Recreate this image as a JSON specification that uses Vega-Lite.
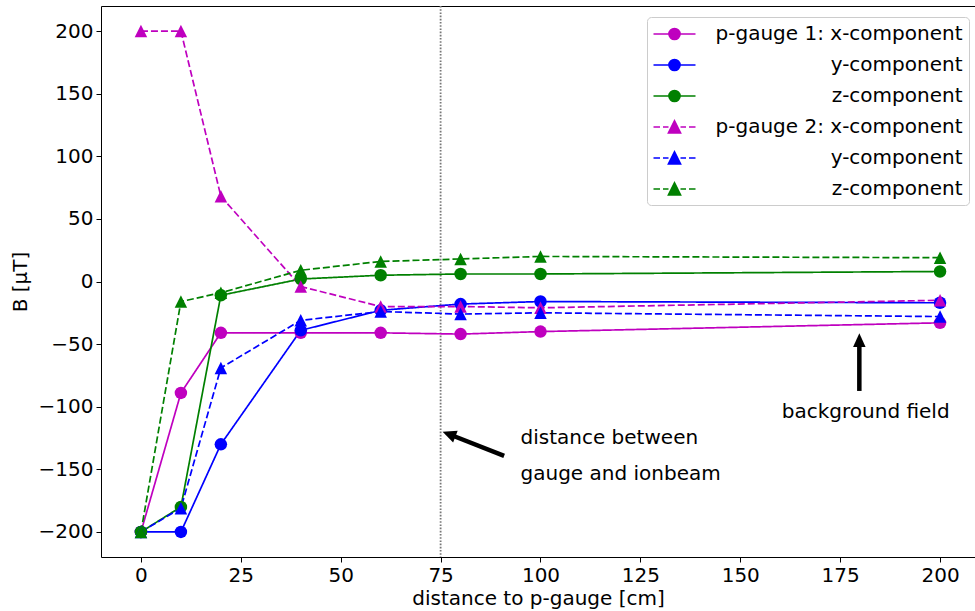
{
  "$schema": "https://vega.github.io/schema/vega-lite/v6.json",
  "width": 874,
  "height": 551,
  "autosize": {"type": "none"},
  "padding": {"left": 101, "top": 6, "right": 0, "bottom": 54},
  "config": {
    "font": "DejaVu Sans",
    "view": {"stroke": "black", "strokeWidth": 1},
    "axis": {
      "grid": false,
      "domain": false,
      "tickColor": "black",
      "tickSize": 5,
      "tickWidth": 1,
      "labelFont": "DejaVu Sans",
      "labelFontSize": 20,
      "labelColor": "black",
      "labelPadding": 3,
      "titleFont": "DejaVu Sans",
      "titleFontSize": 20,
      "titleFontWeight": "normal",
      "titleColor": "black"
    },
    "axisX": {"titlePadding": 3},
    "axisY": {"titlePadding": 8}
  },
  "datasets": {
    "main": [
      {"series": "g1x", "d": 0, "B": -200}, {"series": "g1x", "d": 10, "B": -89}, {"series": "g1x", "d": 20, "B": -41}, {"series": "g1x", "d": 40, "B": -41}, {"series": "g1x", "d": 60, "B": -41}, {"series": "g1x", "d": 80, "B": -42}, {"series": "g1x", "d": 100, "B": -40}, {"series": "g1x", "d": 200, "B": -33},
      {"series": "g1y", "d": 0, "B": -200}, {"series": "g1y", "d": 10, "B": -200}, {"series": "g1y", "d": 20, "B": -130}, {"series": "g1y", "d": 40, "B": -39}, {"series": "g1y", "d": 60, "B": -23}, {"series": "g1y", "d": 80, "B": -18}, {"series": "g1y", "d": 100, "B": -16}, {"series": "g1y", "d": 200, "B": -17},
      {"series": "g1z", "d": 0, "B": -200}, {"series": "g1z", "d": 10, "B": -180}, {"series": "g1z", "d": 20, "B": -11}, {"series": "g1z", "d": 40, "B": 2}, {"series": "g1z", "d": 60, "B": 5}, {"series": "g1z", "d": 80, "B": 6}, {"series": "g1z", "d": 100, "B": 6}, {"series": "g1z", "d": 200, "B": 8},
      {"series": "g2x", "d": 0, "B": 200}, {"series": "g2x", "d": 10, "B": 200}, {"series": "g2x", "d": 20, "B": 68}, {"series": "g2x", "d": 40, "B": -4}, {"series": "g2x", "d": 60, "B": -20}, {"series": "g2x", "d": 80, "B": -20}, {"series": "g2x", "d": 100, "B": -21}, {"series": "g2x", "d": 200, "B": -15},
      {"series": "g2y", "d": 0, "B": -200}, {"series": "g2y", "d": 10, "B": -181}, {"series": "g2y", "d": 20, "B": -69}, {"series": "g2y", "d": 40, "B": -31}, {"series": "g2y", "d": 60, "B": -24}, {"series": "g2y", "d": 80, "B": -26}, {"series": "g2y", "d": 100, "B": -25}, {"series": "g2y", "d": 200, "B": -28},
      {"series": "g2z", "d": 0, "B": -200}, {"series": "g2z", "d": 10, "B": -16}, {"series": "g2z", "d": 20, "B": -9}, {"series": "g2z", "d": 40, "B": 9}, {"series": "g2z", "d": 60, "B": 16}, {"series": "g2z", "d": 80, "B": 18}, {"series": "g2z", "d": 100, "B": 20}, {"series": "g2z", "d": 200, "B": 19}
    ],
    "vline": [{"d": 75}],
    "arrows": [
      {"a": "ion", "tx": 90.9, "ty": -139.3, "sx": 77.3, "sy": -122.2, "hx": 75.5, "hy": -119.9},
      {"a": "bg", "tx": 179.8, "ty": -87.4, "sx": 179.8, "sy": -47.7, "hx": 179.8, "hy": -41.4}
    ],
    "notes": [
      {"d": 95, "B": -129.7, "text": "distance between"},
      {"d": 95, "B": -158.4, "text": "gauge and ionbeam"},
      {"d": 160.4, "B": -109, "text": "background field"}
    ]
  },
  "layer": [
    {
      "data": {"name": "vline"},
      "mark": {"type": "rule", "color": "#777777", "strokeDash": [1.6, 1.6], "strokeWidth": 1.8},
      "encoding": {
        "x": {"field": "d", "type": "quantitative", "scale": {"domain": [-10, 208.75], "nice": false, "zero": false}, "title": "distance to p-gauge [cm]", "axis": {"values": [0, 25, 50, 75, 100, 125, 150, 175, 200]}}
      }
    },
    {
      "data": {"name": "main"},
      "mark": {"type": "line", "strokeWidth": 1.7},
      "encoding": {
        "x": {"field": "d", "type": "quantitative", "scale": {"domain": [-10, 208.75], "nice": false, "zero": false}, "title": "distance to p-gauge [cm]"},
        "y": {"field": "B", "type": "quantitative", "scale": {"domain": [-220, 220], "nice": false, "zero": false}, "title": "B [µT]", "axis": {"values": [-200, -150, -100, -50, 0, 50, 100, 150, 200]}},
        "color": {
          "field": "series", "type": "nominal",
          "scale": {"domain": ["g1x", "g1y", "g1z", "g2x", "g2y", "g2z"], "range": ["#bf00bf", "#0000ff", "#008000", "#bf00bf", "#0000ff", "#008000"]},
          "legend": {
            "title": null,
            "orient": "none",
            "legendX": 546,
            "legendY": 11,
            "labelExpr": "datum.value === 'g1x' ? 'p-gauge 1: x-component' : datum.value === 'g2x' ? 'p-gauge 2: x-component' : (datum.value === 'g1y' || datum.value === 'g2y') ? 'y-component' : 'z-component'",
            "labelAlign": "right",
            "labelOffset": 277,
            "labelFontSize": 20,
            "labelFont": "DejaVu Sans",
            "labelColor": "black",
            "labelLimit": 400,
            "symbolSize": 400,
            "symbolOffset": 10.5,
            "rowPadding": 10,
            "padding": 6,
            "fillColor": "rgba(255,255,255,0.8)",
            "strokeColor": "#cccccc",
            "cornerRadius": 4,
            "encode": {
              "symbols": {
                "update": {
                  "shape": {"signal": "indexof(datum.value, 'g2') === 0 ? 'M-2.1,0L-1.45,0M-1.15,0L-0.6,0M0.6,0L1.15,0M1.45,0L2.1,0M0,-0.6L0.6,0.6L-0.6,0.6Z' : 'M-2.1,0L2.1,0M0.55,0A0.55,0.55,0,1,1,-0.55,0A0.55,0.55,0,1,1,0.55,0Z'"},
                  "fill": {"signal": "scale('color', datum.value)"},
                  "stroke": {"signal": "scale('color', datum.value)"},
                  "strokeWidth": {"value": 1.7},
                  "strokeDash": {"value": []},
                  "opacity": {"value": 1},
                  "size": {"value": 400}
                }
              }
            }
          }
        },
        "strokeDash": {
          "field": "series", "type": "nominal",
          "scale": {"domain": ["g2z", "g2y", "g2x", "g1z", "g1y", "g1x"], "range": [[7, 3], [7, 3], [7, 3], [1, 0], [1, 0], [1, 0]]},
          "legend": null
        },
        "order": {"field": "d", "type": "quantitative"}
      }
    },
    {
      "data": {"name": "main"},
      "mark": {"type": "point", "filled": true, "opacity": 1, "size": 156},
      "encoding": {
        "x": {"field": "d", "type": "quantitative", "scale": {"domain": [-10, 208.75], "nice": false, "zero": false}, "title": "distance to p-gauge [cm]"},
        "y": {"field": "B", "type": "quantitative", "scale": {"domain": [-220, 220], "nice": false, "zero": false}, "title": "B [µT]"},
        "color": {
          "field": "series", "type": "nominal",
          "scale": {"domain": ["g1x", "g1y", "g1z", "g2x", "g2y", "g2z"], "range": ["#bf00bf", "#0000ff", "#008000", "#bf00bf", "#0000ff", "#008000"]}
        },
        "shape": {
          "field": "series", "type": "nominal",
          "scale": {"domain": ["g2x", "g2y", "g2z", "g1x", "g1y", "g1z"], "range": ["M0,-1L1,1L-1,1Z", "M0,-1L1,1L-1,1Z", "M0,-1L1,1L-1,1Z", "circle", "circle", "circle"]},
          "legend": null
        }
      }
    },
    {
      "data": {"name": "arrows"},
      "mark": {"type": "rule", "color": "black", "strokeWidth": 4.5},
      "encoding": {
        "x": {"field": "tx", "type": "quantitative", "scale": {"domain": [-10, 208.75], "nice": false, "zero": false}, "title": "distance to p-gauge [cm]"},
        "y": {"field": "ty", "type": "quantitative", "scale": {"domain": [-220, 220], "nice": false, "zero": false}, "title": "B [µT]"},
        "x2": {"field": "sx"},
        "y2": {"field": "sy"}
      }
    },
    {
      "data": {"name": "arrows"},
      "transform": [{"filter": "datum.a === 'ion'"}],
      "mark": {"type": "point", "shape": "M0,0L-0.5,1.1L0.5,1.1Z", "size": 625, "angle": 291.5, "filled": true, "color": "black", "opacity": 1},
      "encoding": {
        "x": {"field": "hx", "type": "quantitative", "scale": {"domain": [-10, 208.75], "nice": false, "zero": false}, "title": "distance to p-gauge [cm]"},
        "y": {"field": "hy", "type": "quantitative", "scale": {"domain": [-220, 220], "nice": false, "zero": false}, "title": "B [µT]"}
      }
    },
    {
      "data": {"name": "arrows"},
      "transform": [{"filter": "datum.a === 'bg'"}],
      "mark": {"type": "point", "shape": "M0,0L-0.5,1.1L0.5,1.1Z", "size": 625, "angle": 0, "filled": true, "color": "black", "opacity": 1},
      "encoding": {
        "x": {"field": "hx", "type": "quantitative", "scale": {"domain": [-10, 208.75], "nice": false, "zero": false}, "title": "distance to p-gauge [cm]"},
        "y": {"field": "hy", "type": "quantitative", "scale": {"domain": [-220, 220], "nice": false, "zero": false}, "title": "B [µT]"}
      }
    },
    {
      "data": {"name": "notes"},
      "mark": {"type": "text", "align": "left", "baseline": "alphabetic", "fontSize": 20, "font": "DejaVu Sans", "color": "black"},
      "encoding": {
        "x": {"field": "d", "type": "quantitative", "scale": {"domain": [-10, 208.75], "nice": false, "zero": false}, "title": "distance to p-gauge [cm]"},
        "y": {"field": "B", "type": "quantitative", "scale": {"domain": [-220, 220], "nice": false, "zero": false}, "title": "B [µT]"},
        "text": {"field": "text"}
      }
    }
  ]
}
